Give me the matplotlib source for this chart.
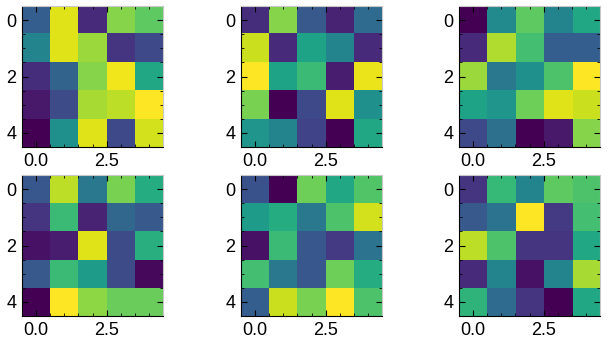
import numpy as np
import matplotlib
matplotlib.use("Agg")
import matplotlib.pyplot as plt
from matplotlib.ticker import AutoMinorLocator

plt.rcParams.update({
    "font.family": ["Liberation Sans", "DejaVu Sans"],
    "font.size": 13,
    "xtick.direction": "in",
    "ytick.direction": "in",
    "xtick.top": True,
    "ytick.right": True,
    "xtick.major.size": 4,
    "ytick.major.size": 4,
    "xtick.minor.size": 2,
    "ytick.minor.size": 2,
    "xtick.major.pad": 4,
    "ytick.major.pad": 4,
})

grid_a = [[0.30, 0.95, 0.12, 0.82, 0.75],
          [0.45, 0.95, 0.85, 0.15, 0.22],
          [0.13, 0.32, 0.82, 0.98, 0.60],
          [0.07, 0.23, 0.87, 0.90, 1.00],
          [0.00, 0.50, 0.95, 0.22, 0.93]]
grid_b = [[0.13, 0.82, 0.28, 0.10, 0.35],
          [0.92, 0.12, 0.58, 0.45, 0.12],
          [1.00, 0.58, 0.68, 0.08, 0.97],
          [0.80, 0.00, 0.22, 0.95, 0.50],
          [0.52, 0.45, 0.20, 0.00, 0.60]]
grid_c = [[0.00, 0.48, 0.75, 0.45, 0.60],
          [0.12, 0.88, 0.70, 0.30, 0.30],
          [0.85, 0.40, 0.50, 0.72, 1.00],
          [0.58, 0.52, 0.78, 0.95, 0.92],
          [0.22, 0.37, 0.00, 0.07, 0.82]]
grid_d = [[0.27, 0.90, 0.40, 0.80, 0.62],
          [0.15, 0.68, 0.10, 0.33, 0.28],
          [0.05, 0.08, 0.95, 0.23, 0.63],
          [0.28, 0.68, 0.55, 0.23, 0.02],
          [0.00, 1.00, 0.83, 0.77, 0.77]]
grid_e = [[0.25, 0.00, 0.78, 0.60, 0.73],
          [0.55, 0.62, 0.40, 0.72, 0.93],
          [0.05, 0.68, 0.27, 0.17, 0.38],
          [0.70, 0.40, 0.27, 0.78, 0.62],
          [0.30, 0.92, 0.80, 1.00, 0.72]]
grid_f = [[0.15, 0.67, 0.45, 0.75, 0.72],
          [0.28, 0.38, 1.00, 0.17, 0.70],
          [0.90, 0.72, 0.15, 0.15, 0.60],
          [0.12, 0.45, 0.05, 0.45, 0.87],
          [0.65, 0.35, 0.15, 0.00, 0.60]]

grids = [grid_a, grid_b, grid_c, grid_d, grid_e, grid_f]

W, H = 607, 345
fig = plt.figure(figsize=(W / 100, H / 100), dpi=100)

lefts = [22, 241, 459]
tops = [6, 175]
size = 141

for i, g in enumerate(grids):
    r, c = divmod(i, 3)
    ax = fig.add_axes([lefts[c] / W, 1 - (tops[r] + size) / H, size / W, size / H])
    ax.imshow(np.array(g), cmap="viridis", interpolation="nearest")
    ax.xaxis.set_minor_locator(AutoMinorLocator())
    ax.yaxis.set_minor_locator(AutoMinorLocator())
    ax.tick_params(which="both", top=True, right=True)
    ax.spines["left"].set_color("black")
    ax.spines["bottom"].set_color("black")
    ax.spines["top"].set_color("#c8c8c8")
    ax.spines["right"].set_color("#c8c8c8")

fig.savefig("out.png", dpi=100)
